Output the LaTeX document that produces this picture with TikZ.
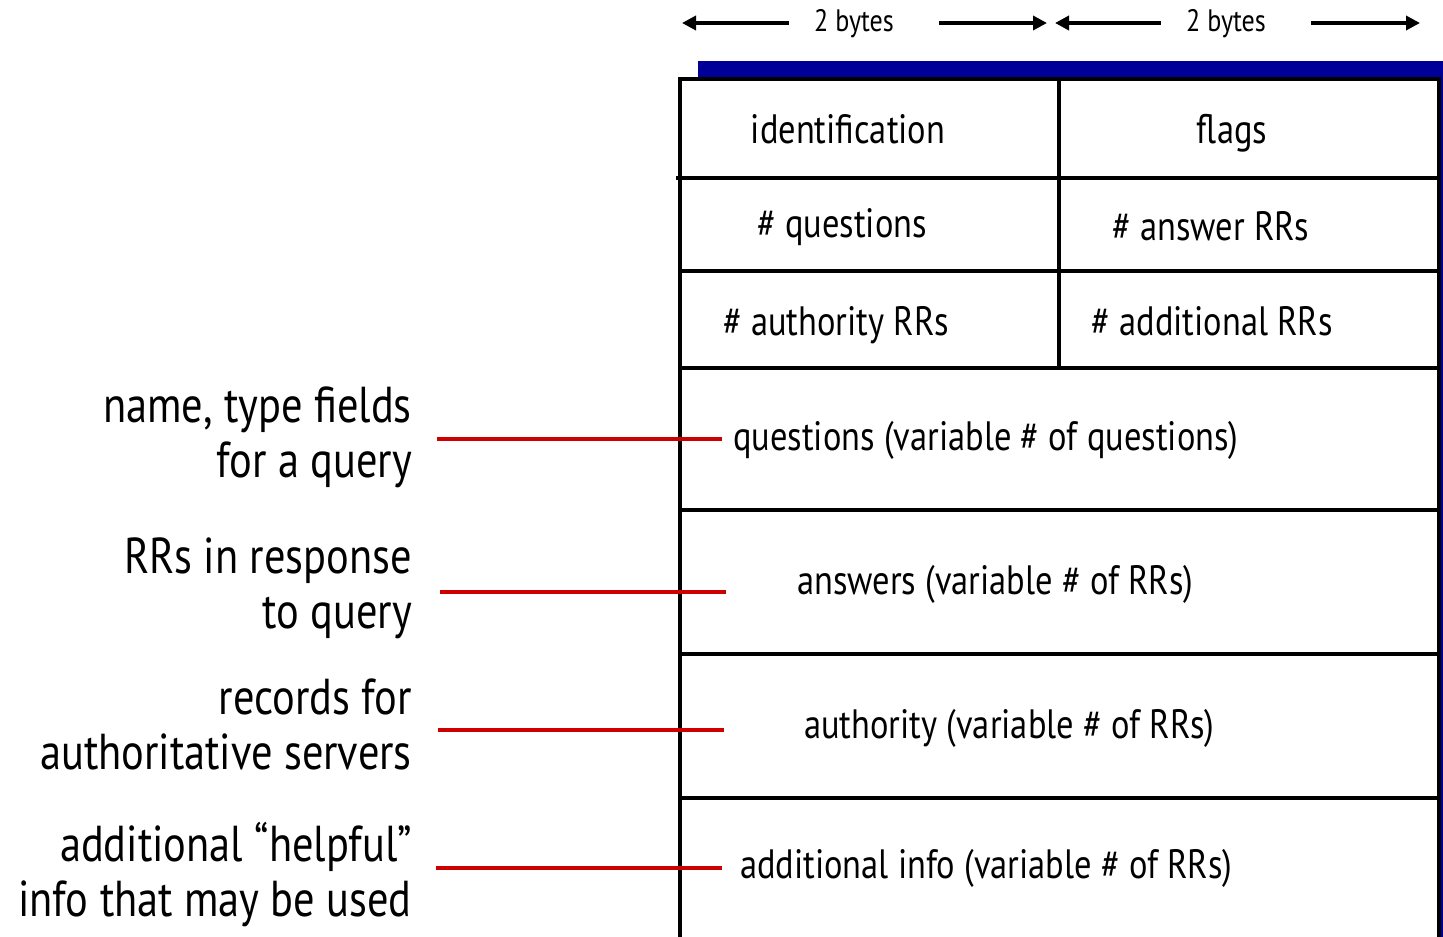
\documentclass[tikz,border=0pt]{standalone}
\usepackage{fontspec}
\setmainfont{PT Sans}[FakeStretch=0.84]
\usetikzlibrary{arrows.meta}
\definecolor{barblue}{RGB}{0,0,153}
\definecolor{linkred}{RGB}{204,0,0}
\begin{document}
\begin{tikzpicture}[x=1pt,y=-1pt,
  frame/.style={line width=3.5pt, black},
  cell/.style={font=\fontsize{41}{48}\selectfont, inner sep=0pt, anchor=base},
  wide/.style={font=\fontsize{41}{48}\selectfont, inner sep=0pt, anchor=base west},
  lbl/.style={font=\fontsize{50.5}{55}\selectfont, align=right, anchor=east, inner sep=0pt},
  link/.style={linkred, line width=3.5pt},
  dim/.style={line width=3.5pt, -{Triangle[length=14pt,width=14pt]}},
  bytes/.style={font=\fontsize{31}{36}\selectfont, inner sep=0pt}]
\useasboundingbox (0,0) rectangle (1443,937);
% shadow bar and box
\fill[barblue] (698,61) rectangle (1470,960);
\fill[white] (680,79) rectangle (1439,960);
\draw[frame] (680,960) -- (680,79) -- (1439,79) -- (1439,960);
\draw[frame] (676,178) -- (1439,178);
\draw[frame] (680,271) -- (1439,271);
\draw[frame] (680,368) -- (1439,368);
\draw[frame] (680,510) -- (1439,510);
\draw[frame] (680,654) -- (1439,654);
\draw[frame] (680,798) -- (1439,798);
\draw[frame] (1059,79) -- (1059,368);
% header byte arrows
\node[bytes] (b1) at (854,24) {2 bytes};
\node[bytes] (b2) at (1226,24) {2 bytes};
\coordinate (a1l) at (682,23); \coordinate (a1r) at (1047,23);
\coordinate (a2l) at (1055,23); \coordinate (a2r) at (1420,23);
\draw[dim] ([xshift=-25pt]b1.west |- a1l) -- (a1l);
\draw[dim] ([xshift=45pt]b1.east |- a1r) -- (a1r);
\draw[dim] ([xshift=-25pt]b2.west |- a2l) -- (a2l);
\draw[dim] ([xshift=45pt]b2.east |- a2r) -- (a2r);
% cells
\node[cell] (id) at (848,143) {identification};
\node[cell] (fl) at (1232,143) {flags};
\node[cell] (nq) at (842,237) {\# questions};
\node[cell] (na) at (1211,240) {\# answer RRs};
\node[cell] (nau) at (836,335) {\# authority RRs};
\node[cell] (nad) at (1212,335) {\# additional RRs};
\node[wide] (q) at (733,450) {questions (variable \# of questions)};
\node[wide] (an) at (797,594) {answers (variable \# of RRs)};
\node[wide] (au) at (804,738) {authority (variable \# of RRs)};
\node[wide] (ad) at (740,878) {additional info (variable \# of RRs)};
% left labels
\node[lbl] (l1) at (412,437) {name, type fields\\for a query};
\node[lbl] (l2) at (412,588) {RRs in response\\to query};
\node[lbl] (l3) at (412,724) {records for\\authoritative servers};
\node[lbl] (l4) at (412,875) {additional “helpful”\\info that may be used};
\coordinate (r1a) at (437,439); \coordinate (r1b) at (722,439);
\coordinate (r2a) at (440,592); \coordinate (r2b) at (726,592);
\coordinate (r3a) at (438,730); \coordinate (r3b) at (724,730);
\coordinate (r4a) at (436,868); \coordinate (r4b) at (722,868);
\draw[link] (r1a) -- (r1b);
\draw[link] (r2a) -- (r2b);
\draw[link] (r3a) -- (r3b);
\draw[link] (r4a) -- (r4b);
\end{tikzpicture}
\end{document}
